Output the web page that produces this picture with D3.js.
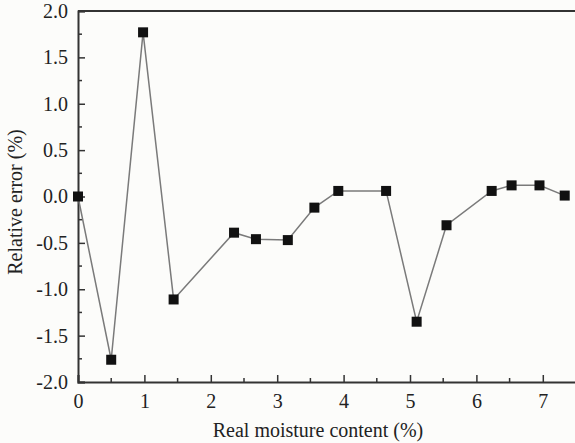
<!DOCTYPE html>
<html>
<head>
<meta charset="utf-8">
<script src="https://cdn.jsdelivr.net/npm/d3@7"></script>
<style>
  body { margin: 0; background: #fcfcfa; }
  svg text { font-family: "Liberation Serif", "Times New Roman", serif !important; fill: #222; }
</style>
</head>
<body>
<svg width="575" height="443"></svg>
<script>
// moisture content (%) and relative error (%)
var moisture = [0, 0.5, 0.98, 1.44, 2.35, 2.68, 3.16, 3.56, 3.92, 4.64, 5.1, 5.55, 6.23, 6.53, 6.95, 7.33]
var relError = [0, -1.76, 1.77, -1.11, -0.39, -0.46, -0.47, -0.12, 0.06, 0.06, -1.35, -0.31, 0.06, 0.12, 0.12, 0.01]
var xTicks = [0, 1, 2, 3, 4, 5, 6, 7]
var yTicks = [-2, -1.5, -1, -0.5, 0, 0.5, 1, 1.5, 2]

var svg = d3.select('svg')
var pLeft = 78, pRight = 576, pTop = 11, pBottom = 382
var serif = '"Liberation Serif", "Times New Roman", serif'

var x = d3.scaleLinear().domain([0, 7.5]).range([pLeft, pRight])
var y = d3.scaleLinear().domain([-2, 2]).range([pBottom, pTop])

var axisColor = '#333'

// minor ticks
svg.append('g').selectAll('line')
  .data(d3.range(0.5, 7.5, 1))
  .enter().append('line')
    .attr('x1', d => x(d)).attr('x2', d => x(d))
    .attr('y1', pBottom).attr('y2', pBottom - 4)
    .attr('stroke', axisColor).attr('stroke-width', 1.5)

svg.append('g').selectAll('line')
  .data(d3.range(-1.75, 2, 0.5))
  .enter().append('line')
    .attr('x1', pLeft).attr('x2', pLeft + 4)
    .attr('y1', d => y(d)).attr('y2', d => y(d))
    .attr('stroke', axisColor).attr('stroke-width', 1.5)

// x axis
var gx = svg.append('g')
  .attr('transform', 'translate(0,' + pBottom + ')')
  .call(d3.axisBottom(x).tickValues(xTicks).tickSize(-7).tickPadding(12).tickFormat(d3.format('d')))
gx.attr('font-family', serif)
gx.select('.domain').attr('stroke', axisColor).attr('stroke-width', 2)
gx.selectAll('.tick line').attr('stroke', axisColor).attr('stroke-width', 1.5)
gx.selectAll('text').style('font-size', '20px').style('font-family', serif)

// y axis
var gy = svg.append('g')
  .attr('transform', 'translate(' + pLeft + ',0)')
  .call(d3.axisLeft(y).tickValues(yTicks).tickSize(-7).tickPadding(10))
gy.attr('font-family', serif)
gy.select('.domain').attr('stroke', axisColor).attr('stroke-width', 2)
gy.selectAll('.tick line').attr('stroke', axisColor).attr('stroke-width', 1.5)
gy.selectAll('text').style('font-size', '20px').style('font-family', serif)
  .text(d => d3.format('.1f')(d).replace('−', '-'))

// top border
svg.append('line')
  .attr('x1', pLeft).attr('x2', pRight).attr('y1', pTop).attr('y2', pTop)
  .attr('stroke', axisColor).attr('stroke-width', 2)

// axis titles
svg.append('text')
  .attr('x', 318).attr('y', 437)
  .attr('text-anchor', 'middle').style('font-size', '20px').style('font-family', serif)
  .text('Real moisture content (%)')

svg.append('text')
  .attr('transform', 'translate(22,202) rotate(-90)')
  .attr('text-anchor', 'middle').style('font-size', '20px').style('font-family', serif)
  .text('Relative error (%)')

var pts = moisture.map((m, i) => [m, relError[i]])

svg.append('path')
  .datum(pts)
  .attr('fill', 'none')
  .attr('stroke', '#7a7a7a')
  .attr('stroke-width', 1.5)
  .attr('d', d3.line().x(d => x(d[0])).y(d => y(d[1])))

svg.append('g').selectAll('rect')
  .data(pts)
  .enter().append('rect')
    .attr('x', d => x(d[0]) - 5)
    .attr('y', d => y(d[1]) - 5)
    .attr('width', 10).attr('height', 10)
    .attr('fill', '#111')
</script>
</body>
</html>
